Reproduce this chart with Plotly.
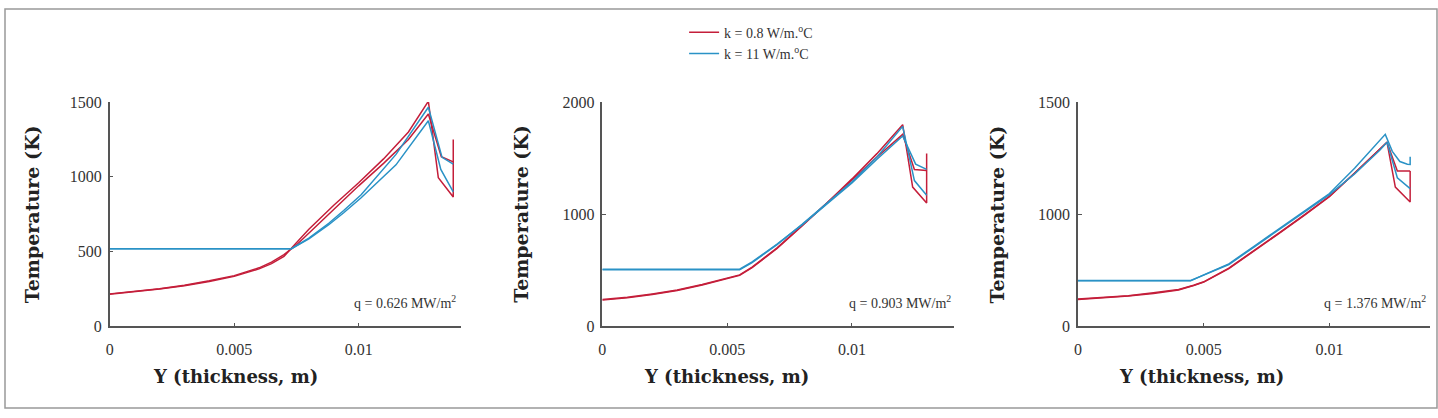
import plotly.graph_objects as go

W, H = 1438, 418
RED = "#c41e3a"
BLUE = "#2a92c6"
FONT = "Liberation Serif"
TFONT = "DejaVu Serif"

# ---------------- data: panel 1 (q = 0.626 MW/m2) ----------------
p1_red_a_y = [0, .001, .002, .003, .004, .005, .006, .0065, .007, .0075, .008, .009, .010, .011, .012, .0128, .0132, .0138, .0138]
p1_red_a_t = [215, 230, 250, 273, 300, 335, 385, 420, 468, 560, 650, 810, 960, 1120, 1300, 1505, 995, 865, 1250]
p1_red_b_y = [0, .001, .002, .003, .004, .005, .006, .0065, .007, .0075, .008, .009, .010, .011, .012, .0128, .01332, .0138]
p1_red_b_t = [218, 233, 253, 276, 305, 340, 392, 430, 480, 545, 625, 785, 940, 1090, 1250, 1420, 1135, 1100]
p1_blue_a_y = [0, .0073, .008, .0088, .0094, .0101, .0115, .0128, .01335, .0138]
p1_blue_a_t = [520, 520, 590, 690, 775, 880, 1150, 1465, 1130, 1085]
p1_blue_b_y = [0, .0073, .008, .0088, .0094, .0101, .0115, .0128, .0133, .0138]
p1_blue_b_t = [520, 520, 585, 680, 760, 860, 1080, 1375, 1050, 900]

# ---------------- data: panel 2 (q = 0.903 MW/m2) ----------------
p2_red_a_y = [0, .001, .002, .003, .004, .005, .0055, .006, .007, .008, .009, .010, .011, .01203, .01243, .01299, .01299]
p2_red_a_t = [235, 255, 285, 320, 370, 425, 455, 525, 695, 895, 1100, 1315, 1540, 1798, 1242, 1100, 1541]
p2_red_b_y = [0, .001, .002, .003, .004, .005, .0055, .006, .007, .008, .009, .010, .011, .01203, .0125, .01299]
p2_red_b_t = [240, 260, 290, 325, 375, 430, 460, 530, 700, 900, 1100, 1305, 1510, 1712, 1399, 1390]
p2_blue_a_y = [0, .0055, .006, .007, .008, .009, .010, .011, .01203, .0125, .01299]
p2_blue_a_t = [505, 505, 570, 730, 910, 1100, 1290, 1510, 1783, 1300, 1170]
p2_blue_b_y = [0, .0055, .006, .007, .008, .009, .010, .011, .01203, .01255, .01299]
p2_blue_b_t = [510, 510, 575, 735, 905, 1090, 1280, 1490, 1698, 1447, 1400]

# ---------------- data: panel 3 (q = 1.376 MW/m2) ----------------
p3_red_a_y = [0, .001, .002, .003, .004, .0046, .005, .006, .007, .008, .009, .010, .011, .012, .01229, .01262, .01321, .01321]
p3_red_a_t = [240, 255, 272, 295, 325, 365, 395, 516, 670, 829, 990, 1157, 1368, 1580, 1641, 1242, 1110, 1385]
p3_red_b_y = [0, .001, .002, .003, .004, .0046, .005, .006, .007, .008, .009, .010, .011, .012, .01229, .0127, .01321]
p3_red_b_t = [245, 258, 275, 300, 330, 368, 398, 520, 675, 835, 995, 1160, 1365, 1575, 1641, 1385, 1385]
p3_blue_a_y = [0, .00448, .005, .006, .007, .008, .009, .010, .011, .012, .01222, .0125, .0128, .0131, .01321, .01321]
p3_blue_a_t = [407, 407, 460, 558, 715, 872, 1030, 1185, 1410, 1655, 1712, 1560, 1470, 1445, 1444, 1513]
p3_blue_b_y = [0, .00448, .005, .006, .007, .008, .009, .010, .011, .012, .01229, .0127, .01321]
p3_blue_b_t = [410, 410, 458, 552, 708, 862, 1020, 1175, 1360, 1570, 1641, 1325, 1228]

q_labels = ["q = 0.626 MW/m<sup>2</sup>", "q = 0.903 MW/m<sup>2</sup>", "q = 1.376 MW/m<sup>2</sup>"]
legend_names = ["k = 0.8 W/m.<sup>o</sup>C", "k = 11 W/m.<sup>o</sup>C"]
x_tickvals = [0, 0.005, 0.01]
x_ticktext = ["0", "0.005", "0.01"]
y_ticks = [[0, 500, 1000, 1500], [0, 1000, 2000], [0, 1000, 2000]]
y_ticktext = [["0", "500", "1000", "1500"], ["0", "1000", "2000"], ["0", "1000", "1500"]]
y_ranges = [[0, 1500], [0, 2000], [0, 2000]]
x_ranges = [[0, 0.0141], [0, 0.0141], [0, 0.0140]]

panels = [
    [(p1_red_a_y, p1_red_a_t, RED), (p1_red_b_y, p1_red_b_t, RED),
     (p1_blue_a_y, p1_blue_a_t, BLUE), (p1_blue_b_y, p1_blue_b_t, BLUE)],
    [(p2_red_a_y, p2_red_a_t, RED), (p2_red_b_y, p2_red_b_t, RED),
     (p2_blue_a_y, p2_blue_a_t, BLUE), (p2_blue_b_y, p2_blue_b_t, BLUE)],
    [(p3_red_a_y, p3_red_a_t, RED), (p3_red_b_y, p3_red_b_t, RED),
     (p3_blue_a_y, p3_blue_a_t, BLUE), (p3_blue_b_y, p3_blue_b_t, BLUE)],
]

# pixel layout
x_dom_px = [(106, 458), (600, 953), (1077, 1430)]
y_dom_px = (98, 332)  # top, bottom
ytitle_x_px = [28, 519, 996]
xtitle_x_px = [232, 725, 1201]
q_right_px = [455, 952, 1428]

fig = go.Figure()
shown = {RED: False, BLUE: False}
for i, curves in enumerate(panels):
    sfx = "" if i == 0 else str(i + 1)
    for xs, ts, col in curves:
        show = not shown[col]
        shown[col] = True
        fig.add_trace(go.Scatter(
            x=xs, y=ts, mode="lines", xaxis="x" + sfx, yaxis="y" + sfx,
            line=dict(color=col, width=1.5),
            name=legend_names[0] if col == RED else legend_names[1],
            showlegend=show, legendrank=1 if col == RED else 2,
        ))

axis_common = dict(showgrid=False, zeroline=False, showline=True, linecolor="#555", linewidth=1.5,
                   ticks="inside", ticklen=4, tickwidth=1, tickcolor="#555",
                   tickfont=dict(family=FONT, size=16, color="#333"))
layout = dict(width=W, height=H, margin=dict(l=0, r=0, t=0, b=0),
              paper_bgcolor="white", plot_bgcolor="white", font=dict(family=FONT))
annotations = []
for i in range(3):
    sfx = "" if i == 0 else str(i + 1)
    x0, x1 = x_dom_px[i]
    layout["xaxis" + sfx] = dict(axis_common, domain=[x0 / W, x1 / W], range=x_ranges[i],
                                 anchor="y" + sfx, tickvals=x_tickvals, ticktext=x_ticktext,
                                 ticklabelstandoff=8)
    layout["yaxis" + sfx] = dict(axis_common, domain=[1 - y_dom_px[1] / H, 1 - y_dom_px[0] / H],
                                 range=y_ranges[i], anchor="x" + sfx, tickvals=y_ticks[i],
                                 ticktext=y_ticktext[i], ticklabelstandoff=3)
    annotations.append(dict(text="<b>Temperature (K)</b>", xref="paper", yref="paper",
                            x=ytitle_x_px[i] / W, y=1 - 215 / H, textangle=-90, showarrow=False,
                            xanchor="center", yanchor="middle",
                            font=dict(family=TFONT, size=19, color="#222")))
    annotations.append(dict(text="<b>Y (thickness, m)</b>", xref="paper", yref="paper",
                            x=xtitle_x_px[i] / W, y=1 - 384 / H, showarrow=False,
                            xanchor="center", yanchor="middle",
                            font=dict(family=TFONT, size=18, color="#222")))
    annotations.append(dict(text=q_labels[i], xref="paper", yref="paper", xanchor="right",
                            yanchor="middle", x=q_right_px[i] / W, y=1 - 306 / H, showarrow=False,
                            font=dict(family=FONT, size=14, color="#333")))
layout["annotations"] = annotations
layout["legend"] = dict(x=682 / W, y=1 - 9 / H, xanchor="left", yanchor="top",
                        font=dict(family=FONT, size=14, color="#333"), tracegroupgap=0,
                        bgcolor="rgba(0,0,0,0)")
layout["shapes"] = [dict(type="rect", xref="paper", yref="paper", x0=0.0007, x1=0.9993,
                         y0=0.0024, y1=0.9976, line=dict(color="#999", width=1.5))]
fig.update_layout(**layout)
fig.write_html("out.html")
